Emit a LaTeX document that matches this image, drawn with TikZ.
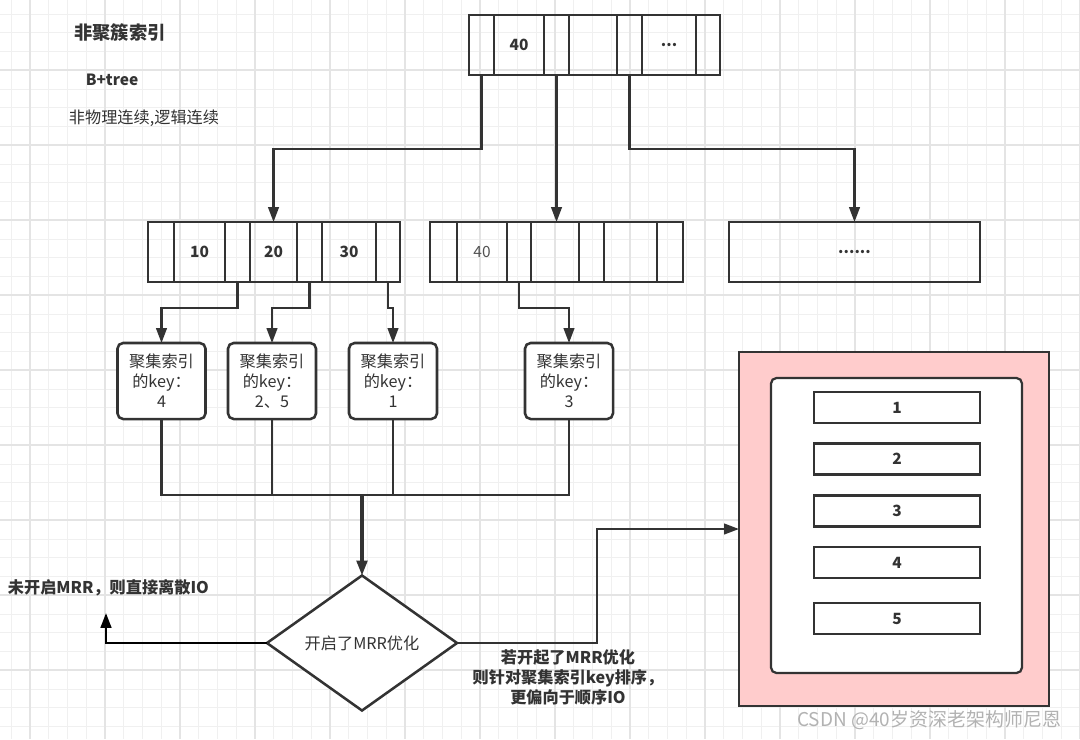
\documentclass[tikz,border=0pt]{standalone}
\usepackage{fontspec}
\setmainfont{Noto Sans CJK SC}
\usetikzlibrary{positioning,shapes.geometric,arrows.meta}
\definecolor{ink}{HTML}{333333}
\definecolor{pinkfill}{HTML}{FFCCCC}
\definecolor{gridminor}{HTML}{F0F0F0}
\definecolor{gridmajor}{HTML}{E4E4E4}
\tikzset{
  cell/.style={draw=ink, line width=1.8pt, minimum height=1.5cm, inner sep=0pt, outer sep=0pt, text=ink, font=\bfseries\fontsize{11}{13}\selectfont},
  keybox/.style={draw=ink, line width=1.8pt, rounded corners=4pt, fill=white, minimum width=2.2cm, minimum height=1.9cm, outer sep=0pt, align=center, text=ink, font=\fontsize{11.5}{14.2}\selectfont},
  rowbox/.style={draw=ink, line width=1.8pt, fill=white, minimum width=4.15cm, minimum height=0.775cm, outer sep=0pt, text=ink, font=\bfseries\fontsize{11}{13}\selectfont},
  lbl/.style={text=ink, font=\bfseries\fontsize{11.5}{14.2}\selectfont},
  link/.style={draw=ink, line width=1.5pt, -{Triangle[length=10.5pt,width=7.5pt]}},
  wire/.style={draw=ink, line width=1.5pt}
}
\begin{document}
\begin{tikzpicture}[x=0.025cm, y=-0.025cm]
    \useasboundingbox[fill=white] (0,0) rectangle (1080,739);
    \foreach \i in {0,...,57} \draw[gridminor, line width=0.6pt] ({11.25+18.75*\i},0) -- ({11.25+18.75*\i},739);
    \foreach \j in {0,...,39} \draw[gridminor, line width=0.6pt] (0,{14+18.75*\j}) -- (1080,{14+18.75*\j});
    \foreach \i in {0,...,14} \draw[gridmajor, line width=0.8pt] ({30+75*\i},0) -- ({30+75*\i},739);
    \foreach \j in {0,...,9} \draw[gridmajor, line width=0.8pt] (0,{70+75*\j}) -- (1080,{70+75*\j});

    \node[text=ink, font=\bfseries\fontsize{13}{15}\selectfont] (title) at (120,33) {非聚簇索引};
    \node[lbl, font=\bfseries\fontsize{11}{13}\selectfont] (tree) at (112,80) {B+tree};
    \node[text=ink, font=\fontsize{11.5}{14}\selectfont] (note) at (144,118) {非物理连续,逻辑连续};

    \node[cell, minimum width=0.625cm] (r0) at (481.5,45) {};
    \node[cell, minimum width=1.25cm, right=0pt of r0] (r1) {40};
    \node[cell, minimum width=0.625cm, right=0pt of r1] (r2) {};
    \node[cell, minimum width=1.2cm, right=0pt of r2] (r3) {};
    \node[cell, minimum width=0.625cm, right=0pt of r3] (r4) {};
    \node[cell, minimum width=1.35cm, right=0pt of r4] (r5) {...};
    \node[cell, minimum width=0.6cm, right=0pt of r5] (r6) {};

    \node[cell, minimum width=0.65cm] (a0) at (161,252) {};
    \node[cell, minimum width=1.275cm, right=0pt of a0] (a1) {10};
    \node[cell, minimum width=0.625cm, right=0pt of a1] (a2) {};
    \node[cell, minimum width=1.175cm, right=0pt of a2] (a3) {20};
    \node[cell, minimum width=0.625cm, right=0pt of a3] (a4) {};
    \node[cell, minimum width=1.35cm, right=0pt of a4] (a5) {30};
    \node[cell, minimum width=0.6cm, right=0pt of a5] (a6) {};

    \node[cell, minimum width=0.675cm] (b0) at (443.5,252) {};
    \node[cell, minimum width=1.25cm, right=0pt of b0, font=\fontsize{11}{13}\selectfont, text=ink!85] (b1) {40};
    \node[cell, minimum width=0.6cm, right=0pt of b1] (b2) {};
    \node[cell, minimum width=1.2cm, right=0pt of b2] (b3) {};
    \node[cell, minimum width=0.625cm, right=0pt of b3] (b4) {};
    \node[cell, minimum width=1.325cm, right=0pt of b4] (b5) {};
    \node[cell, minimum width=0.65cm, right=0pt of b5] (b6) {};

    \node[cell, minimum width=6.275cm] (c) at (854.5,252) {......};

    \draw[link] (r0.south) -- ++(0,74) -| (a3.north);
    \draw[link] (r2.south) -- (r2.south |- b3.north);
    \draw[link] (r4.south) -- ++(0,74) -| (c.north);

    \node[keybox] (k4) at (161.5,381) {聚集索引\\的key：\\4};
    \node[keybox] (k25) at (272,381) {聚集索引\\的key：\\2、5};
    \node[keybox] (k1) at (393,381) {聚集索引\\的key：\\1};
    \node[keybox] (k3) at (569,381) {聚集索引\\的key：\\3};

    \draw[link] (a2.south) -- ++(0,26) -| (k4.north);
    \draw[link] (a4.south) -- ++(0,26) -| (k25.north);
    \draw[link] (a6.south) -- ++(0,26) -| (k1.north);
    \draw[link] (b2.south) -- ++(0,26) -| (k3.north);

    \node[diamond, draw=ink, line width=1.8pt, fill=white, minimum width=4.75cm, minimum height=3.375cm, inner sep=0pt, outer sep=0pt, text=ink, font=\fontsize{11.5}{14}\selectfont] (dia) at (362,643) {开启了MRR优化};
    \coordinate (merge) at (362,495);
    \draw[wire] (k4.south) |- (merge);
    \draw[wire] (k25.south) |- (merge);
    \draw[wire] (k1.south) |- (merge);
    \draw[wire] (k3.south) |- (merge);
    \draw[link, line width=2.2pt] (merge) -- (dia.north);

    \coordinate (off) at (106,613);
    \draw[black, line width=1.8pt, -{Triangle[length=10.5pt,width=7.5pt]}] (dia.west) -| (off);
    \node[lbl, anchor=west] (offtxt) at (3,588) {未开启MRR，则直接离散IO};

    \node[draw=ink, fill=pinkfill, line width=1.8pt, minimum width=7.75cm, minimum height=8.85cm, outer sep=0pt] (store) at (894,529) {};
    \node[draw=ink, fill=white, rounded corners=4pt, line width=1.6pt, minimum width=6.275cm, minimum height=7.375cm] (inner) at (896.5,525.5) {};
    \node[rowbox] (row1) at (897,407.5) {1};
    \node[rowbox] (row2) at (897,459) {2};
    \node[rowbox] (row3) at (897,511) {3};
    \node[rowbox] (row4) at (897,562.5) {4};
    \node[rowbox] (row5) at (897,618.5) {5};

    \draw[link] (dia.east) -- ++(140,0) |- (store.west);
    \node[lbl, align=center] (ontxt) at (568,677) {若开起了MRR优化\\则针对聚集索引key排序，\\更偏向于顺序IO};

    \node[anchor=east, text=gray!60, font=\fontsize{13.5}{15}\selectfont] (mark) at (1066,720) {CSDN @40岁资深老架构师尼恩};
\end{tikzpicture}
\end{document}
